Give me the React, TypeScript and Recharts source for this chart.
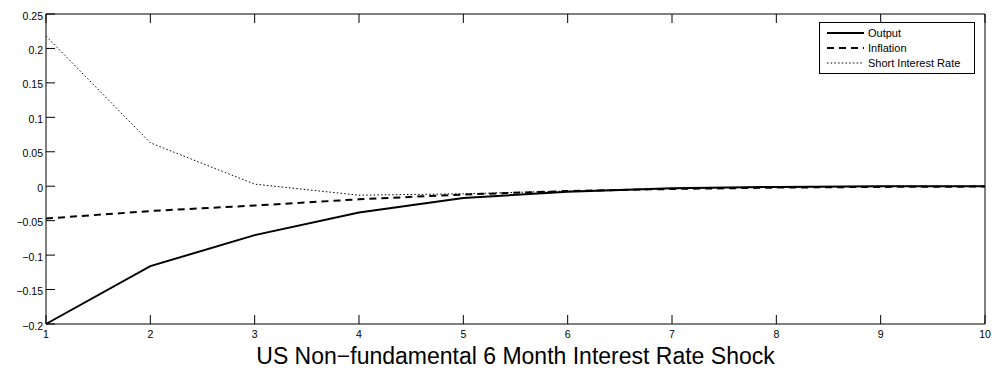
import React from 'react';
import { LineChart, Line, XAxis, YAxis, Legend } from 'recharts';

const periods = [1, 2, 3, 4, 5, 6, 7, 8, 9, 10];
const outputValues = [-0.2, -0.116, -0.071, -0.038, -0.017, -0.008, -0.003, -0.001, 0, 0];
const inflationValues = [-0.047, -0.036, -0.028, -0.019, -0.012, -0.007, -0.004, -0.002, -0.001, -0.0005];
const shortRateValues = [0.218, 0.063, 0.003, -0.013, -0.011, -0.007, -0.003, -0.001, 0, 0];
const yTicks = [-0.2, -0.15, -0.1, -0.05, 0, 0.05, 0.1, 0.15, 0.2, 0.25];
const xTicks = periods;
const seriesNames = ['Output', 'Inflation', 'Short Interest Rate'];
const seriesDash = ['', '7 5', '1.5 2.2'];
const seriesWidth = [2, 2, 1];
const title = 'US Non\u2212fundamental 6 Month Interest Rate Shock';

const data = periods.map((p, i) => ({
  period: p,
  output: outputValues[i],
  inflation: inflationValues[i],
  shortRate: shortRateValues[i],
}));

const FONT = '"Liberation Sans", Arial, Helvetica, sans-serif';
const fmt = (v: number) => String(v).replace('-', '\u2212');
const TICK_LEN = 9;
const MARGIN = 8;
const TICK_FONT = 10.5;

const BottomTick = (props: any) => {
  const { x, y, payload } = props;
  const axisY = y - MARGIN;
  return (
    <g>
      <line x1={x} x2={x} y1={axisY} y2={axisY - TICK_LEN} stroke="#000" strokeWidth={1} />
      <text x={x} y={axisY + 14} textAnchor="middle" fontSize={TICK_FONT} fontFamily={FONT} fill="#000">
        {payload.value}
      </text>
    </g>
  );
};

const TopTick = (props: any) => {
  const { x, y } = props;
  const axisY = y + MARGIN;
  return <line x1={x} x2={x} y1={axisY} y2={axisY + TICK_LEN} stroke="#000" strokeWidth={1} />;
};

const LeftTick = (props: any) => {
  const { x, y, payload } = props;
  const axisX = x + MARGIN;
  return (
    <g>
      <line x1={axisX} x2={axisX + TICK_LEN} y1={y} y2={y} stroke="#000" strokeWidth={1} />
      <text x={axisX - 3} y={y + 5.5} textAnchor="end" fontSize={TICK_FONT} fontFamily={FONT} fill="#000">
        {fmt(payload.value)}
      </text>
    </g>
  );
};

const RightTick = (props: any) => {
  const { x, y } = props;
  const axisX = x - MARGIN;
  return <line x1={axisX} x2={axisX - TICK_LEN} y1={y} y2={y} stroke="#000" strokeWidth={1} />;
};

const LegendBox = () => (
  <svg width={156} height={52} style={{ display: 'block' }}>
    <rect x={0.5} y={0.5} width={155} height={51} fill="#fff" stroke="#000" strokeWidth={1} />
    {seriesNames.map((name, i) => (
      <g key={name}>
        <line
          x1={8}
          x2={45}
          y1={11 + 15 * i}
          y2={11 + 15 * i}
          stroke="#000"
          strokeWidth={seriesWidth[i]}
          strokeDasharray={seriesDash[i] || undefined}
        />
        <text x={49} y={11 + 15 * i} dominantBaseline="central" fontSize={11} fontFamily={FONT} fill="#000">
          {name}
        </text>
      </g>
    ))}
  </svg>
);

export default function App() {
  return (
    <div style={{ position: 'absolute', left: 0, top: 0, width: 994, height: 373, background: '#fff' }}>
      <LineChart
        width={994}
        height={373}
        data={data}
        margin={{ top: 13, right: 8, bottom: 0, left: 0 }}
        style={{ fontFamily: FONT }}
      >
        <XAxis
          dataKey="period"
          type="number"
          domain={[1, 10]}
          ticks={xTicks}
          height={49}
          tickSize={0}
          tickMargin={MARGIN}
          tickLine={false}
          stroke="#000"
          tick={<BottomTick />}
          interval={0}
          label={{ value: title, position: 'insideBottom', offset: 9, fill: '#000', fontSize: 23, fontFamily: FONT }}
        />
        <XAxis
          xAxisId="top"
          orientation="top"
          dataKey="period"
          type="number"
          domain={[1, 10]}
          ticks={xTicks}
          height={1}
          tickSize={0}
          tickMargin={MARGIN}
          tickLine={false}
          stroke="#000"
          tick={<TopTick />}
          interval={0}
        />
        <YAxis
          type="number"
          domain={[-0.2, 0.25]}
          ticks={yTicks}
          width={46}
          tickSize={0}
          tickMargin={MARGIN}
          tickLine={false}
          stroke="#000"
          tick={<LeftTick />}
          interval={0}
        />
        <YAxis
          yAxisId="right"
          orientation="right"
          type="number"
          domain={[-0.2, 0.25]}
          ticks={yTicks}
          width={1}
          tickSize={0}
          tickMargin={MARGIN}
          tickLine={false}
          stroke="#000"
          tick={<RightTick />}
          interval={0}
        />
        <Legend
          layout="vertical"
          align="center"
          verticalAlign="middle"
          content={() => <LegendBox />}
          wrapperStyle={{ position: 'absolute', left: 819, top: 22, width: 156, height: 52 }}
        />
        <Line
          type="linear"
          dataKey="output"
          name={seriesNames[0]}
          stroke="#000"
          strokeWidth={seriesWidth[0]}
          dot={false}
          isAnimationActive={false}
        />
        <Line
          type="linear"
          dataKey="inflation"
          name={seriesNames[1]}
          stroke="#000"
          strokeWidth={seriesWidth[1]}
          strokeDasharray={seriesDash[1]}
          dot={false}
          isAnimationActive={false}
        />
        <Line
          type="linear"
          dataKey="shortRate"
          name={seriesNames[2]}
          stroke="#000"
          strokeWidth={seriesWidth[2]}
          strokeDasharray={seriesDash[2]}
          dot={false}
          isAnimationActive={false}
        />
      </LineChart>
    </div>
  );
}
